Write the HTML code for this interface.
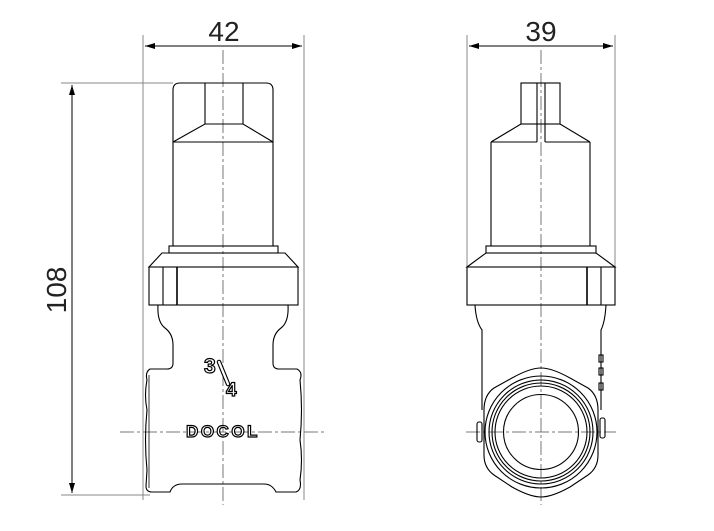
<!DOCTYPE html>
<html><head><meta charset="utf-8"><style>
html,body{margin:0;padding:0;background:#fff;width:714px;height:531px;overflow:hidden}
svg{display:block}
text{font-family:"Liberation Sans",sans-serif}
</style></head><body>
<svg width="714" height="531" viewBox="0 0 714 531" xmlns="http://www.w3.org/2000/svg">
<defs>
<marker id="a" viewBox="0 0 10 6" refX="10" refY="3" markerWidth="10" markerHeight="6" orient="auto-start-reverse" markerUnits="userSpaceOnUse"><path d="M0,0 L10,3 L0,6z" fill="#000"/></marker>
</defs>
<g fill="none" stroke="#888" stroke-width="1">
<line x1="143" y1="35" x2="143" y2="500"/>
<line x1="304" y1="35" x2="304" y2="500"/>
<line x1="467" y1="35" x2="467" y2="270"/>
<line x1="615" y1="35" x2="615" y2="270"/>
<line x1="61" y1="83" x2="173" y2="83"/>
<line x1="61" y1="495" x2="150" y2="495"/>
</g>
<g stroke="#000" stroke-width="1" fill="none">
<line x1="145" y1="46" x2="302" y2="46" marker-start="url(#a)" marker-end="url(#a)"/>
<line x1="469" y1="46" x2="613" y2="46" marker-start="url(#a)" marker-end="url(#a)"/>
<line x1="72" y1="85" x2="72" y2="493" marker-start="url(#a)" marker-end="url(#a)"/>
</g>
<g fill="#222">
<text x="224" y="41" font-size="28" text-anchor="middle">42</text>
<text x="541" y="41" font-size="28" text-anchor="middle">39</text>
<text transform="translate(66,290) rotate(-90)" font-size="28" text-anchor="middle">108</text>
</g>

<g stroke="#777" stroke-width="1" stroke-dasharray="14,3,3,3" fill="none">
<line x1="223" y1="50" x2="223" y2="505"/>
<line x1="541" y1="50" x2="541" y2="505"/>
<line x1="120" y1="432" x2="326" y2="432"/>
<line x1="466" y1="432" x2="616" y2="432"/>
</g>

<g stroke="#000" stroke-width="1.1" fill="none">
<path d="M173,142 L173,90 Q173,83 180,83 L266,83 Q273,83 273,90 L273,142 Z"/>
<line x1="205" y1="83" x2="205" y2="124"/>
<line x1="243" y1="83" x2="243" y2="124"/>
<path d="M173,142 L205,124 L243,124 L273,142"/>
<path d="M173,142 L173,246 M273,142 L273,246"/>
<rect x="169" y="246" width="109" height="7"/>
<path d="M162,253 L285,253 L298,267 L149,267 Z"/>
<rect x="149" y="267" width="149" height="38"/>
<line x1="163" y1="267" x2="163" y2="305"/>
<line x1="177" y1="267" x2="177" y2="305" stroke-width="1.6"/>
<path d="M158,305 Q157,322 165,328 Q173,334 173,345 L173,363 Q173,369 167,369 L150,369 Q145,372 147,380 Q144,395 147,410 Q144,440 147,470 L146,486 Q146,492 152,492 L170,492 Q173,484 182,484 L264,484 Q272,484 276,492 L296,492 Q302,490 300,480 Q303,460 300,440 Q303,410 300,380 Q303,372 297,369 L279,369 Q273,369 273,363 L273,345 Q273,334 281,328 Q289,322 288,305"/>
<path d="M149,375 L149,488" stroke-width="0.8"/>
</g>
<g fill="#fff" stroke="#000" stroke-width="1.2">
<text x="204" y="373" font-size="21" font-weight="bold">3</text>
<line x1="219" y1="362" x2="228" y2="384" stroke-width="4.5" stroke-linecap="round"/>
<line x1="219" y1="362" x2="228" y2="384" stroke="#fff" stroke-width="2.3" stroke-linecap="round"/>
<text x="226" y="396" font-size="19" font-weight="bold">4</text>
<text x="223" y="437" font-size="17" text-anchor="middle" letter-spacing="2.5" font-weight="bold">DOCOL</text>
</g>

<g stroke="#000" stroke-width="1.1" fill="none">
<rect x="521" y="83" width="39" height="41"/>
<path d="M537,83 L537,142 M545,83 L545,142"/>
<path d="M491,142 L521,124 M560,124 L590,142 M491,142 L537,142 M545,142 L590,142"/>
<path d="M491,142 L491,246 M590,142 L590,246"/>
<rect x="486" y="246" width="110" height="7"/>
<path d="M486,253 L596,253 L615,267 L467,267 Z"/>
<rect x="467" y="267" width="148" height="38"/>
<line x1="587" y1="267" x2="587" y2="305" stroke-width="1.6"/>
<line x1="601" y1="267" x2="601" y2="305"/>
<path d="M475,305 Q476,322 482,330 L482,410"/>
<path d="M606,305 Q605,322 601,330 L601,410"/>
<path d="M541,368 Q552,368 570,378 L588,388 Q598,395 598,410 L598,455 Q598,468 588,475 L570,487 Q552,497 541,497 Q530,497 512,487 L494,475 Q484,468 484,455 L484,410 Q484,395 494,388 L512,378 Q530,368 541,368 Z"/>
<circle cx="541" cy="432" r="56"/>
<circle cx="541" cy="432" r="52"/>
<circle cx="541" cy="432" r="49"/>
<circle cx="541" cy="432" r="46"/>
<circle cx="541" cy="432" r="37.5"/>
<rect x="477" y="422" width="5" height="20" rx="2"/>
<rect x="600" y="418" width="5" height="20" rx="2"/>
<rect x="599" y="355" width="4" height="7"/>
<rect x="599" y="368" width="4" height="7"/>
<rect x="599" y="383" width="4" height="7"/>
</g>
</svg>
</body></html>
